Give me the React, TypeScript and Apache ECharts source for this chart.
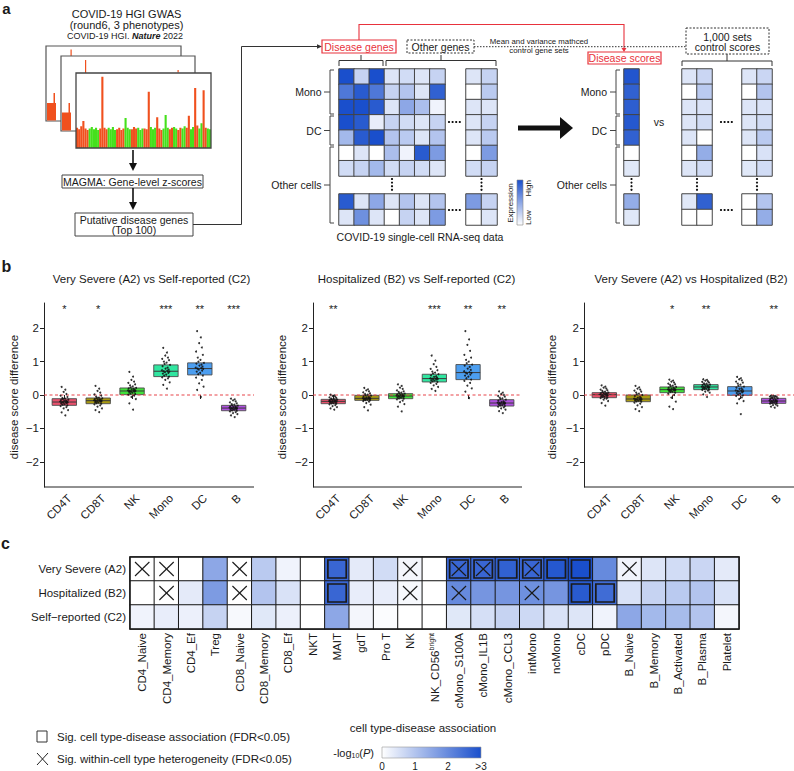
import React, { useEffect, useRef } from "react";
import * as echarts from "echarts";

const FONT = "'Liberation Sans', Arial, Helvetica, sans-serif";

// ---------------- panel a : schematic data ----------------
const GWAS_CHR_SIZES = [6, 5, 4, 4, 4, 3, 3, 3, 3, 3, 3, 3, 2, 2, 2, 2, 2, 2, 2, 2, 2, 2];
const GWAS_SIGNAL = [
  0.27, 0.25, 0.29, 0.36, 0.26, 0.24,
  0.26, 0.28, 0.25, 0.27, 0.24,
  0.26, 0.95, 0.27, 0.25,
  0.27, 0.25, 0.28, 0.24,
  0.25, 0.27, 0.24, 0.26,
  0.4, 0.27, 0.25,
  0.25, 0.28, 0.26,
  0.27, 0.24, 0.26,
  0.26, 0.25, 0.75,
  0.28, 0.25, 0.27,
  0.41, 0.26, 0.24,
  0.26, 0.44, 0.27,
  0.25, 0.27,
  0.28, 0.26,
  0.24, 0.27,
  0.26, 0.29,
  0.27, 0.43,
  0.25, 0.28,
  0.8, 0.3,
  0.26, 0.33,
  0.77, 0.27,
  0.26, 0.25,
];
const EXPR_MATRIX = [
  [3.0, 0.75, 3.0, 0.45, 0.6, 0.45, 0.75, 0.45, 0.75],
  [2.3, 2.8, 2.3, 0.75, 1.0, 0.45, 2.7, 0.0, 0.9],
  [3.0, 3.0, 2.8, 0.45, 1.5, 1.1, 0.2, 0.45, 0.45],
  [3.0, 2.8, 0.3, 0.75, 0.6, 0.45, 0.75, 0.45, 0.75],
  [1.2, 2.8, 3.0, 1.0, 0.9, 0.45, 1.0, 0.45, 0.9],
  [0.0, 0.45, 0.0, 1.1, 0.2, 2.8, 1.7, 0.0, 1.7],
  [0.6, 0.75, 1.2, 0.6, 0.75, 0.6, 0.45, 0.6, 0.75],
  [2.8, 0.45, 1.5, 0.45, 1.0, 0.45, 1.0, 1.7, 0.75],
  [0.45, 1.9, 0.45, 0.0, 0.75, 0.45, 1.7, 0.0, 0.45],
];
const DISEASE_SCORES = [2.9, 2.7, 2.75, 2.85, 2.7, 0.0, 0.4, 1.4, 0.4];
const CONTROL_SCORES = [
  [0.45, 0.7, 0.45, 0.7],
  [0.0, 0.9, 0.0, 1.0],
  [0.45, 0.5, 0.45, 0.5],
  [0.45, 0.6, 0.45, 0.6],
  [0.45, 0.0, 0.45, 0.9],
  [0.0, 1.4, 0.0, 0.5],
  [0.45, 0.6, 0.4, 0.6],
  [0.4, 2.7, 0.0, 1.0],
  [0.0, 0.0, 0.0, 1.4],
];

// ---------------- panel b : box plots ----------------
const CELL_TYPES_B = ["CD4T", "CD8T", "NK", "Mono", "DC", "B"];
const BOX_COLORS = ["#e9506c", "#a99a12", "#40e03a", "#30e6a0", "#4c9ef0", "#b050e0"];
const COMPARISONS = [
  "Very Severe (A2) vs Self-reported (C2)",
  "Hospitalized (B2) vs Self-reported (C2)",
  "Very Severe (A2) vs Hospitalized (B2)",
];
const A2C2_Q1 = [-0.31, -0.26, 0.01, 0.55, 0.6, -0.47];
const A2C2_MED = [-0.21, -0.17, 0.12, 0.71, 0.79, -0.39];
const A2C2_Q3 = [-0.11, -0.09, 0.21, 0.9, 0.96, -0.31];
const A2C2_STARS = ["*", "*", "", "***", "**", "***"];
const B2C2_Q1 = [-0.26, -0.16, -0.11, 0.39, 0.46, -0.33];
const B2C2_MED = [-0.19, -0.1, -0.03, 0.49, 0.67, -0.24];
const B2C2_Q3 = [-0.13, -0.01, 0.04, 0.62, 0.91, -0.14];
const B2C2_STARS = ["**", "", "", "***", "**", "**"];
const A2B2_Q1 = [-0.08, -0.2, 0.07, 0.16, -0.01, -0.25];
const A2B2_MED = [0.01, -0.12, 0.16, 0.24, 0.12, -0.18];
const A2B2_Q3 = [0.07, 0.0, 0.24, 0.31, 0.25, -0.1];
const A2B2_STARS = ["", "", "*", "**", "", "**"];
const JITTER = [0.03, -0.08, 0.11, -0.02, 0.06, -0.11, 0.09, -0.05, 0.01, -0.09, 0.07, -0.03, 0.1, -0.07, 0.04, -0.12, 0.08, -0.01, 0.05, -0.1, 0.12, -0.04, 0.02, -0.06, 0.09, -0.11, 0.06, -0.02, 0.03, -0.08];
const A2C2_POINTS = [
  [-0.61, -0.52, -0.45, -0.4, -0.36, -0.33, -0.31, -0.29, -0.27, -0.26, -0.24, -0.23, -0.22, -0.21, -0.21, -0.2, -0.19, -0.18, -0.17, -0.15, -0.14, -0.12, -0.11, -0.09, -0.06, -0.02, 0.03, 0.09, 0.16, 0.24],
  [-0.51, -0.45, -0.4, -0.35, -0.31, -0.28, -0.26, -0.24, -0.22, -0.21, -0.2, -0.19, -0.18, -0.17, -0.17, -0.16, -0.15, -0.14, -0.13, -0.12, -0.1, -0.09, -0.08, -0.05, -0.02, 0.02, 0.07, 0.12, 0.19, 0.27],
  [-0.44, -0.25, -0.12, -0.06, -0.02, 0.01, 0.03, 0.05, 0.07, 0.09, 0.1, 0.11, 0.12, 0.12, 0.13, 0.14, 0.15, 0.17, 0.18, 0.2, 0.21, 0.23, 0.26, 0.29, 0.32, 0.36, 0.4, 0.45, 0.55, 0.69],
  [0.19, 0.3, 0.38, 0.45, 0.5, 0.53, 0.55, 0.58, 0.61, 0.64, 0.66, 0.68, 0.7, 0.71, 0.72, 0.74, 0.76, 0.79, 0.82, 0.86, 0.9, 0.93, 0.97, 1.0, 1.04, 1.08, 1.12, 1.18, 1.27, 1.41],
  [-0.06, 0.15, 0.25, 0.35, 0.45, 0.52, 0.58, 0.62, 0.66, 0.7, 0.73, 0.76, 0.78, 0.79, 0.8, 0.82, 0.85, 0.88, 0.91, 0.94, 0.96, 1.0, 1.05, 1.12, 1.2, 1.3, 1.42, 1.55, 1.72, 1.91],
  [-0.66, -0.61, -0.57, -0.54, -0.51, -0.49, -0.47, -0.46, -0.44, -0.43, -0.42, -0.41, -0.4, -0.39, -0.39, -0.38, -0.37, -0.36, -0.35, -0.34, -0.32, -0.31, -0.29, -0.27, -0.25, -0.22, -0.19, -0.16, -0.13, -0.11],
];
const B2C2_POINTS = [
  [-0.44, -0.4, -0.36, -0.33, -0.3, -0.28, -0.26, -0.25, -0.24, -0.23, -0.22, -0.21, -0.2, -0.19, -0.19, -0.18, -0.17, -0.17, -0.16, -0.15, -0.14, -0.13, -0.12, -0.11, -0.09, -0.07, -0.05, -0.03, -0.01, 0.01],
  [-0.46, -0.36, -0.29, -0.24, -0.2, -0.18, -0.16, -0.15, -0.14, -0.13, -0.12, -0.11, -0.11, -0.1, -0.1, -0.09, -0.08, -0.07, -0.06, -0.04, -0.02, -0.01, 0.01, 0.03, 0.05, 0.08, 0.11, 0.14, 0.17, 0.21],
  [-0.49, -0.35, -0.27, -0.21, -0.17, -0.13, -0.11, -0.1, -0.08, -0.07, -0.06, -0.05, -0.04, -0.03, -0.03, -0.02, -0.01, 0.0, 0.01, 0.02, 0.04, 0.05, 0.07, 0.09, 0.11, 0.14, 0.18, 0.22, 0.27, 0.32],
  [0.12, 0.18, 0.24, 0.29, 0.33, 0.36, 0.39, 0.41, 0.43, 0.44, 0.46, 0.47, 0.48, 0.49, 0.49, 0.5, 0.52, 0.54, 0.56, 0.59, 0.62, 0.64, 0.67, 0.7, 0.74, 0.78, 0.84, 0.92, 1.03, 1.18],
  [-0.09, 0.1, 0.2, 0.28, 0.36, 0.42, 0.46, 0.5, 0.55, 0.58, 0.61, 0.64, 0.66, 0.67, 0.68, 0.71, 0.75, 0.79, 0.84, 0.88, 0.91, 0.95, 1.0, 1.05, 1.12, 1.2, 1.32, 1.5, 1.66, 1.91],
  [-0.54, -0.48, -0.44, -0.4, -0.37, -0.35, -0.33, -0.31, -0.3, -0.28, -0.27, -0.26, -0.25, -0.24, -0.24, -0.23, -0.22, -0.21, -0.19, -0.17, -0.14, -0.12, -0.1, -0.08, -0.05, -0.03, 0.0, 0.03, 0.07, 0.11],
];
const A2B2_POINTS = [
  [-0.32, -0.24, -0.18, -0.14, -0.11, -0.09, -0.08, -0.06, -0.05, -0.04, -0.03, -0.02, -0.01, 0.0, 0.01, 0.02, 0.03, 0.04, 0.05, 0.06, 0.07, 0.08, 0.1, 0.12, 0.14, 0.16, 0.19, 0.22, 0.25, 0.29],
  [-0.48, -0.42, -0.36, -0.31, -0.26, -0.23, -0.2, -0.19, -0.17, -0.16, -0.15, -0.14, -0.13, -0.12, -0.12, -0.11, -0.09, -0.08, -0.06, -0.03, 0.0, 0.02, 0.04, 0.07, 0.1, 0.13, 0.16, 0.19, 0.23, 0.27],
  [-0.42, -0.35, -0.2, -0.08, 0.0, 0.04, 0.07, 0.09, 0.1, 0.12, 0.13, 0.14, 0.15, 0.16, 0.16, 0.17, 0.18, 0.19, 0.21, 0.22, 0.24, 0.26, 0.28, 0.3, 0.32, 0.34, 0.37, 0.4, 0.43, 0.46],
  [-0.06, 0.02, 0.07, 0.1, 0.13, 0.15, 0.16, 0.18, 0.19, 0.2, 0.21, 0.22, 0.23, 0.24, 0.24, 0.25, 0.26, 0.27, 0.28, 0.3, 0.31, 0.32, 0.34, 0.35, 0.37, 0.39, 0.41, 0.43, 0.45, 0.47],
  [-0.57, -0.25, -0.18, -0.12, -0.07, -0.03, -0.01, 0.02, 0.04, 0.06, 0.08, 0.1, 0.11, 0.12, 0.12, 0.14, 0.16, 0.18, 0.2, 0.22, 0.25, 0.28, 0.31, 0.34, 0.37, 0.4, 0.44, 0.47, 0.5, 0.54],
  [-0.38, -0.35, -0.32, -0.3, -0.28, -0.26, -0.25, -0.24, -0.23, -0.22, -0.21, -0.2, -0.19, -0.18, -0.18, -0.17, -0.16, -0.15, -0.14, -0.12, -0.1, -0.09, -0.08, -0.07, -0.06, -0.05, -0.04, -0.03, -0.03, -0.02],
];
const Y_TICKS_B = [-2, -1, 0, 1, 2];

// ---------------- panel c : heatmap ----------------
const CELL_TYPES_C = [
  "CD4_Naive", "CD4_Memory", "CD4_Ef", "Treg", "CD8_Naive", "CD8_Memory", "CD8_Ef", "NKT", "MAIT", "gdT", "Pro T", "NK",
  "NK_CD56bright", "cMono_S100A", "cMono_IL1B", "cMono_CCL3", "intMono", "ncMono", "cDC", "pDC", "B_Naive", "B_Memory",
  "B_Activated", "B_Plasma", "Platelet",
];
const CONDITIONS = ["Very Severe (A2)", "Hospitalized (B2)", "Self\u2212reported (C2)"];
const LOGP_A2 = [0, 0, 0, 1.5, 0, 0.9, 0.2, 0, 2.6, 0.35, 0.6, 0.15, 0, 2.6, 2.6, 2.7, 2.6, 2.85, 3, 2.0, 0.2, 0.45, 0.6, 0.7, 0.35];
const LOGP_B2 = [0, 0, 0.35, 1.7, 0, 1.0, 0.5, 0, 2.6, 0.3, 0.3, 0.1, 0, 2.0, 1.8, 1.8, 1.9, 1.8, 2.8, 2.5, 0.5, 0.75, 0.9, 1.0, 0.5];
const LOGP_C2 = [0.2, 0.3, 0.25, 0.75, 0.1, 0.4, 0.25, 0, 1.5, 0.15, 0.05, 0, 0, 0.4, 0.55, 0.75, 0.65, 0.5, 0.45, 0.2, 1.5, 1.2, 1.15, 1.0, 0.15];
const SIG_A2 = [8, 13, 14, 15, 16, 17, 18];
const SIG_B2 = [8, 18, 19];
const HET_A2 = [0, 1, 4, 11, 13, 14, 16, 20];
const HET_B2 = [1, 4, 11, 13, 16];
const LEGEND_TICKS = ["0", "1", "2", ">3"];

const LOW = "#ffffff";
const HIGH = "#1a4fcc";

function buildOption() {
  const grid: any[] = [];
  const xAxis: any[] = [];
  const yAxis: any[] = [];
  const series: any[] = [];
  const heatIdx: number[] = [];
  const g: any[] = [];

  const addGrid = (gr: any, xa: any, ya: any) => {
    const i = grid.length;
    grid.push({ containLabel: false, outerBoundsMode: "none", ...gr });
    xAxis.push({ gridIndex: i, ...xa });
    yAxis.push({ gridIndex: i, ...ya });
    return i;
  };
  const hiddenCat = (n: number) => ({ type: "category", data: Array.from({ length: n }, (_, k) => String(k)), show: false });

  // graphic helpers
  const txt = (text: string, x: number, y: number, o: any = {}) =>
    g.push({
      type: "text", x, y, rotation: o.rot || 0, z: o.z || 50,
      style: {
        text, x: 0, y: 0, fill: o.color || "#1a1a1a", fontSize: o.size || 10.5, fontFamily: FONT,
        fontWeight: o.weight || "normal", fontStyle: o.fstyle || "normal",
        textAlign: o.align || "center", textVerticalAlign: "middle", align: o.align || "center", verticalAlign: "middle",
        rich: o.rich,
      },
    });
  const ln = (x1: number, y1: number, x2: number, y2: number, o: any = {}) =>
    g.push({ type: "line", z: o.z || 50, shape: { x1, y1, x2, y2 }, style: { stroke: o.color || "#333", lineWidth: o.w || 1, lineDash: o.dash || null } });
  const pl = (points: number[][], o: any = {}) =>
    g.push({ type: "polyline", z: o.z || 50, shape: { points }, style: { stroke: o.color || "#333", lineWidth: o.w || 1, fill: null, lineDash: o.dash || null } });
  const rc = (x: number, y: number, w: number, h: number, o: any = {}) =>
    g.push({ type: "rect", z: o.z || 50, shape: { x, y, width: w, height: h }, style: { fill: o.fill || "none", stroke: o.stroke || null, lineWidth: o.w || 1, lineDash: o.dash || null } });
  const pg = (points: number[][], fill: string, z = 50) => g.push({ type: "polygon", z, shape: { points }, style: { fill } });
  const dots = (x0: number, y0: number, dx: number, dy: number) => {
    for (let k = 0; k < 4; k++) g.push({ type: "circle", z: 50, shape: { cx: x0 + k * dx, cy: y0 + k * dy, r: 1.1 }, style: { fill: "#111" } });
  };

  // ===================== panel a =====================
  txt("a", 6.5, 8.5, { size: 15, weight: "bold" });
  txt("COVID-19 HGI GWAS", 126.5, 13.5, { size: 11 });
  txt("(round6, 3 phenotypes)", 126.5, 24.5, { size: 11 });
  txt("{n|COVID-19 HGI. }{b|Nature}{n| 2022}", 125, 36, {
    size: 9,
    rich: {
      n: { fontSize: 9, fontFamily: FONT, fill: "#1a1a1a", color: "#1a1a1a" },
      b: { fontSize: 9, fontFamily: FONT, fontWeight: "bold", fontStyle: "italic", fill: "#1a1a1a", color: "#1a1a1a" },
    },
  });
  // stacked Manhattan frames
  const RED = "#f0501e";
  rc(46, 46, 135, 75, { fill: "#fff", stroke: "#555", w: 1.2, z: 0.1 });
  rc(47, 103, 9, 17.5, { fill: RED, z: 0.2 });
  rc(53.5, 93, 1.5, 10, { fill: RED, z: 0.2 });
  rc(70.5, 49.5, 1.2, 6.5, { fill: RED, z: 0.2 });
  rc(61, 56, 134, 75, { fill: "#fff", stroke: "#555", w: 1.2, z: 0.3 });
  rc(62, 112.5, 9, 18, { fill: RED, z: 0.4 });
  rc(68.5, 103, 1.5, 10, { fill: RED, z: 0.4 });
  rc(85, 60, 1.2, 13, { fill: RED, z: 0.4 });
  rc(177.5, 70, 1.2, 2.5, { fill: RED, z: 0.4 });
  rc(76, 73, 135, 75, { fill: "#fff", z: 0.5 });
  rc(76, 73, 135, 75, { stroke: "#444", w: 1.3, z: 60 });
  const mg = addGrid({ left: 76, top: 73, width: 135, height: 75 }, hiddenCat(GWAS_SIGNAL.length), { type: "value", min: 0, max: 1, show: false });
  const chrColor: string[] = [];
  GWAS_CHR_SIZES.forEach((n, c) => {
    for (let k = 0; k < n; k++) chrColor.push(c % 2 === 0 ? RED : "#45e01c");
  });
  series.push({
    type: "bar", xAxisIndex: mg, yAxisIndex: mg, barCategoryGap: "0%", silent: true,
    data: GWAS_SIGNAL.map((v, k) => ({ value: v, itemStyle: { color: chrColor[k] } })),
  });
  // arrows and boxes
  ln(133, 150, 133, 164, { w: 1.6, color: "#111" });
  pg([[129, 163], [137, 163], [133, 171]], "#111");
  rc(62, 175, 141, 13, { fill: "#fff", stroke: "#444", w: 1 });
  txt("MAGMA: Gene-level z-scores", 132.5, 181.5, { size: 10.5 });
  ln(133, 188, 133, 203, { w: 1.6, color: "#111" });
  pg([[129, 202], [137, 202], [133, 210]], "#111");
  rc(75, 213, 118, 23, { fill: "#fff", stroke: "#444", w: 1 });
  txt("Putative disease genes", 134, 219.5, { size: 10.5 });
  txt("(Top 100)", 134, 230, { size: 10.5 });
  pl([[193, 224.5], [241.5, 224.5], [241.5, 46.5], [318, 46.5]], { color: "#333", w: 1 });
  pg([[317, 44.3], [317, 48.7], [322, 46.5]], "#333");

  // middle section labels
  const REDL = "#e8323c";
  rc(322, 40, 74, 13, { fill: "#fff", stroke: REDL, w: 1.2 });
  txt("Disease genes", 359, 46.5, { size: 10.5, color: REDL });
  pl([[359, 40], [359, 24.5], [624, 24.5], [624, 49]], { color: REDL, w: 1.1 });
  pg([[621.5, 48], [626.5, 48], [624, 52]], REDL);
  rc(407, 40, 67, 13, { stroke: "#333", w: 1, dash: [2, 1.5] });
  txt("Other genes", 440.5, 46.5, { size: 10.5 });
  ln(474, 46.7, 686, 46.7, { color: "#333", w: 1, dash: [1.5, 1.5] });
  txt("Mean and variance mathced", 539, 41.3, { size: 7.8 });
  txt("control gene sets", 539, 50.5, { size: 7.8 });
  pl([[339, 66], [339, 60.5], [383, 60.5], [383, 66]], { w: 1 });
  ln(361, 60.5, 361, 55);
  pl([[386, 66], [386, 60.5], [496, 60.5], [496, 66]], { w: 1 });
  ln(441, 60.5, 441, 55);
  const rowBrackets = (bx: number, labelX: number) => {
    const groups = [
      { name: "Mono", y0: 70, y1: 114 },
      { name: "DC", y0: 116, y1: 145 },
      { name: "Other cells", y0: 147, y1: 223 },
    ];
    groups.forEach((gr) => {
      pl([[bx + 4, gr.y0], [bx, gr.y0], [bx, gr.y1], [bx + 4, gr.y1]], { w: 1, color: "#444" });
      const my = (gr.y0 + gr.y1) / 2;
      ln(bx - 6, my, bx, my, { color: "#444" });
      txt(gr.name, labelX, my, { size: 10.5, align: "right" });
    });
  };
  rowBrackets(330, 321.5);
  // schematic heat blocks
  const block = (left: number, top: number, width: number, height: number, rows: number[], cols: number[], get: (r: number, c: number) => number) => {
    const gi = addGrid({ left, top, width, height }, hiddenCat(cols.length), { ...hiddenCat(rows.length), inverse: true });
    const data: number[][] = [];
    rows.forEach((r, ri) => cols.forEach((c, ci) => data.push([ci, ri, get(r, c)])));
    series.push({ type: "heatmap", xAxisIndex: gi, yAxisIndex: gi, data, silent: true, emphasis: { disabled: true }, itemStyle: { borderColor: "#444", borderWidth: 1 } });
    heatIdx.push(series.length - 1);
  };
  const R_TOP = [0, 1, 2, 3, 4, 5, 6];
  const R_BOT = [7, 8];
  block(339, 69, 106, 107, R_TOP, [0, 1, 2, 3, 4, 5, 6], (r, c) => EXPR_MATRIX[r][c]);
  block(466, 69, 31, 107, R_TOP, [7, 8], (r, c) => EXPR_MATRIX[r][c]);
  block(339, 194, 106, 31, R_BOT, [0, 1, 2, 3, 4, 5, 6], (r, c) => EXPR_MATRIX[r][c]);
  block(466, 194, 31, 31, R_BOT, [7, 8], (r, c) => EXPR_MATRIX[r][c]);
  block(624, 69, 15, 107, R_TOP, [0], (r) => DISEASE_SCORES[r]);
  block(624, 194, 15, 31, R_BOT, [0], (r) => DISEASE_SCORES[r]);
  block(682, 69, 30, 107, R_TOP, [0, 1], (r, c) => CONTROL_SCORES[r][c]);
  block(742, 69, 30, 107, R_TOP, [2, 3], (r, c) => CONTROL_SCORES[r][c]);
  block(682, 194, 30, 31, R_BOT, [0, 1], (r, c) => CONTROL_SCORES[r][c]);
  block(742, 194, 30, 31, R_BOT, [2, 3], (r, c) => CONTROL_SCORES[r][c]);
  dots(449, 122, 3.6, 0);
  dots(449, 210, 3.6, 0);
  dots(392, 179, 0, 3.6);
  dots(481.5, 179, 0, 3.6);
  // expression color bar
  g.push({
    type: "rect", z: 50, shape: { x: 517, y: 180, width: 6, height: 45 },
    style: { fill: new echarts.graphic.LinearGradient(0, 0, 0, 1, [{ offset: 0, color: HIGH }, { offset: 1, color: LOW }]), stroke: "#888", lineWidth: 0.6 },
  });
  txt("Expression", 510, 203, { size: 8, rot: Math.PI / 2 });
  txt("High", 528.5, 180, { size: 8, rot: Math.PI / 2, align: "right" });
  txt("Low", 528.5, 225, { size: 8, rot: Math.PI / 2, align: "left" });
  txt("COVID-19 single-cell RNA-seq data", 420, 237, { size: 10.5 });
  // big arrow
  rc(518, 125.5, 43, 5, { fill: "#111" });
  pg([[560, 117], [573, 128], [560, 139]], "#111");
  // disease scores
  rc(588, 52, 73, 12, { fill: "#fff", stroke: REDL, w: 1.2 });
  txt("Disease scores", 624.5, 58, { size: 10.5, color: REDL });
  rowBrackets(616, 607);
  dots(631.5, 179, 0, 3.6);
  txt("vs", 659, 122, { size: 10.5 });
  // control scores
  rc(686, 28, 83, 26, { fill: "#fff", stroke: "#333", w: 1, dash: [2, 1.5] });
  txt("1,000 sets", 727.5, 36.5, { size: 10.5 });
  txt("control scores", 727.5, 47, { size: 10.5 });
  pl([[682, 66], [682, 61], [772, 61], [772, 66]], { w: 1 });
  ln(727, 61, 727, 54);
  dots(721, 122, 3.6, 0);
  dots(721, 210, 3.6, 0);
  dots(697, 179, 0, 3.6);
  dots(757, 179, 0, 3.6);

  // ===================== panel b =====================
  txt("b", 6.5, 266.5, { size: 16, weight: "bold" });
  const PANELS = [
    { left: 44, width: 210, q1: A2C2_Q1, med: A2C2_MED, q3: A2C2_Q3, stars: A2C2_STARS, pts: A2C2_POINTS, tx: 151.5, lx: 14 },
    { left: 313, width: 209, q1: B2C2_Q1, med: B2C2_MED, q3: B2C2_Q3, stars: B2C2_STARS, pts: B2C2_POINTS, tx: 416.5, lx: 282 },
    { left: 584, width: 210, q1: A2B2_Q1, med: A2B2_MED, q3: A2B2_Q3, stars: A2B2_STARS, pts: A2B2_POINTS, tx: 691, lx: 552 },
  ];
  const BOXW = 0.72;
  const EXPAND = 0.6; // ggplot discrete axis expansion (in category units)
  const Y_MIN = -2.75;
  PANELS.forEach((p, pi) => {
    const unit = p.width / (CELL_TYPES_B.length - 1 + 2 * EXPAND);
    const inner = (EXPAND - 0.5) * unit;
    txt(COMPARISONS[pi], p.tx, 278.5, { size: 11.5 });
    txt("disease score difference", p.lx, 397, { size: 11.5, rot: Math.PI / 2 });
    // x-axis baseline spanning the full expanded range
    ln(p.left, 487, p.left + p.width, 487, { color: "#222", w: 1, z: 40 });
    const gi = addGrid(
      { left: p.left + inner, top: 303, width: p.width - 2 * inner, height: 184 },
      {
        type: "category", data: CELL_TYPES_B, boundaryGap: true,
        axisLine: { show: false },
        axisTick: { show: true, length: 4, alignWithLabel: true, lineStyle: { color: "#222" } },
        axisLabel: { show: false },
        splitLine: { show: false },
      },
      {
        type: "value", min: Y_MIN, max: 2.75, offset: inner,
        axisLine: { show: true, onZero: false, lineStyle: { color: "#222", width: 1 } },
        axisTick: { show: true, length: 4, customValues: Y_TICKS_B, lineStyle: { color: "#222" } },
        axisLabel: {
          customValues: Y_TICKS_B, margin: 5, fontSize: 11.5, color: "#1a1a1a", fontFamily: FONT,
          formatter: (v: number) => (v < 0 ? "\u2212" + Math.abs(v) : String(v)),
        },
        splitLine: { show: false },
      }
    );
    series.push({
      type: "custom", xAxisIndex: gi, yAxisIndex: gi, silent: true, z: 2,
      encode: { x: 0, y: [1, 2, 3] },
      data: CELL_TYPES_B.map((_, i) => [i, p.q1[i], p.med[i], p.q3[i]]),
      renderItem: (params: any, api: any) => {
        const i = api.value(0);
        const bw = api.size([1, 0])[0] * BOXW;
        const top = api.coord([i, api.value(3)]);
        const bot = api.coord([i, api.value(1)]);
        const m = api.coord([i, api.value(2)]);
        const x0 = top[0] - bw / 2;
        return {
          type: "group",
          children: [
            { type: "rect", shape: { x: x0, y: top[1], width: bw, height: bot[1] - top[1] }, style: { fill: BOX_COLORS[i], stroke: "#4d4d4d", lineWidth: 0.9 } },
            { type: "line", shape: { x1: x0, y1: m[1], x2: x0 + bw, y2: m[1] }, style: { stroke: "#3a3a3a", lineWidth: 1 } },
          ],
        };
      },
    });
    // dashed zero reference line across the expanded x-range
    series.push({
      type: "custom", xAxisIndex: gi, yAxisIndex: gi, silent: true, z: 3,
      data: [[0, 0]],
      renderItem: (params: any, api: any) => {
        const a = api.coord([0, 0]);
        const b = api.coord([CELL_TYPES_B.length - 1, 0]);
        const bw = api.size([1, 0])[0];
        return { type: "line", shape: { x1: a[0] - EXPAND * bw, y1: a[1], x2: b[0] + EXPAND * bw, y2: b[1] }, style: { stroke: "#e8454a", lineWidth: 1.2, lineDash: [3, 2.5] } };
      },
    });
    const pts: any[] = [];
    p.pts.forEach((vals, i) => vals.forEach((v, k) => pts.push({ value: [i, v], symbolOffset: [JITTER[k % JITTER.length] * unit, 0] })));
    series.push({
      type: "scatter", xAxisIndex: gi, yAxisIndex: gi, silent: true, z: 4,
      symbolSize: 2, itemStyle: { color: "#111", opacity: 0.85 }, data: pts,
    });
    series.push({
      type: "custom", xAxisIndex: gi, yAxisIndex: gi, silent: true, z: 5,
      data: p.stars.map((_, i) => [i, 2.58]),
      renderItem: (params: any, api: any) => {
        const c = api.coord([api.value(0), api.value(1)]);
        return { type: "text", x: c[0], y: c[1], style: { text: p.stars[params.dataIndex], fontSize: 11, fontFamily: FONT, fill: "#1a1a1a", align: "center", verticalAlign: "middle" } };
      },
    });
    // category tick labels, rotated 45 degrees and hanging from each tick
    series.push({
      type: "custom", xAxisIndex: gi, yAxisIndex: gi, silent: true, z: 5,
      data: CELL_TYPES_B.map((_, i) => [i, Y_MIN]),
      renderItem: (params: any, api: any) => {
        const c = api.coord([api.value(0), api.value(1)]);
        return {
          type: "text", x: c[0] + 1, y: c[1] + 5, rotation: Math.PI / 4,
          style: { text: CELL_TYPES_B[params.dataIndex], fontSize: 11.5, fontFamily: FONT, fill: "#1a1a1a", align: "right", verticalAlign: "top" },
        };
      },
    });
  });

  // ===================== panel c =====================
  txt("c", 5.5, 543.5, { size: 16, weight: "bold" });
  const rowsBottomUp = [...CONDITIONS].reverse();
  const hc = addGrid(
    { left: 130, top: 557, width: 609, height: 72 },
    {
      type: "category", data: CELL_TYPES_C,
      axisLine: { show: false }, axisTick: { show: false }, splitLine: { show: false },
      axisLabel: {
        rotate: 90, interval: 0, margin: 4, fontSize: 11.5, color: "#1a1a1a", fontFamily: FONT,
        formatter: (v: string) => (v === "NK_CD56bright" ? "{n|NK_CD56}{s|bright}" : v),
        rich: {
          n: { fontSize: 11.5, fontFamily: FONT, color: "#1a1a1a", lineHeight: 14 },
          s: { fontSize: 7, fontFamily: FONT, color: "#1a1a1a", verticalAlign: "top", lineHeight: 14 },
        },
      },
    },
    {
      type: "category", data: rowsBottomUp,
      axisLine: { show: false }, axisTick: { show: false }, splitLine: { show: false },
      axisLabel: { margin: 4, fontSize: 11.5, color: "#1a1a1a", fontFamily: FONT },
    }
  );
  const heatData: number[][] = [];
  [LOGP_A2, LOGP_B2, LOGP_C2].forEach((arr, r) => arr.forEach((v, c) => heatData.push([c, 2 - r, v])));
  series.push({
    type: "heatmap", xAxisIndex: hc, yAxisIndex: hc, data: heatData, silent: true, emphasis: { disabled: true },
    itemStyle: { borderColor: "#1a1a1a", borderWidth: 1 },
  });
  heatIdx.push(series.length - 1);
  const marks: number[][] = [];
  SIG_A2.forEach((c) => marks.push([c, 2, 1]));
  SIG_B2.forEach((c) => marks.push([c, 1, 1]));
  HET_A2.forEach((c) => marks.push([c, 2, 2]));
  HET_B2.forEach((c) => marks.push([c, 1, 2]));
  series.push({
    type: "custom", xAxisIndex: hc, yAxisIndex: hc, silent: true, z: 5, data: marks,
    encode: { x: 0, y: 1 },
    renderItem: (params: any, api: any) => {
      const c = api.coord([api.value(0), api.value(1)]);
      const s = api.size([1, 1]);
      const w = s[0];
      const h = s[1];
      if (api.value(2) === 1) {
        return { type: "rect", shape: { x: c[0] - w / 2 + 3, y: c[1] - h / 2 + 3, width: w - 6, height: h - 6 }, style: { fill: "none", stroke: "#1a1a1a", lineWidth: 1.7 } };
      }
      const d = 5;
      return {
        type: "group",
        children: [
          { type: "line", shape: { x1: c[0] - w / 2 + d, y1: c[1] - h / 2 + d, x2: c[0] + w / 2 - d, y2: c[1] + h / 2 - d }, style: { stroke: "#1a1a1a", lineWidth: 1.1 } },
          { type: "line", shape: { x1: c[0] + w / 2 - d, y1: c[1] - h / 2 + d, x2: c[0] - w / 2 + d, y2: c[1] + h / 2 - d }, style: { stroke: "#1a1a1a", lineWidth: 1.1 } },
        ],
      };
    },
  });
  // outer frame of the heatmap
  rc(130, 557, 609, 72, { stroke: "#1a1a1a", w: 1.5, z: 60 });

  // legends
  rc(37, 731, 10, 11, { stroke: "#333", w: 1 });
  txt("Sig. cell type-disease association (FDR<0.05)", 57, 736.5, { size: 11.5, align: "left" });
  ln(37, 753, 48, 765, { color: "#222", w: 1 });
  ln(48, 753, 37, 765, { color: "#222", w: 1 });
  txt("Sig. within-cell type heterogeneity (FDR<0.05)", 57, 759, { size: 11.5, align: "left" });
  txt("cell type-disease association", 423, 728, { size: 11.5 });
  txt("{a|-log}{sub|10}{a|(}{i|P}{a|)}", 374, 753, {
    size: 11,
    align: "right",
    rich: {
      a: { fontSize: 11, fontFamily: FONT, fill: "#1a1a1a", color: "#1a1a1a" },
      sub: { fontSize: 7, fontFamily: FONT, fill: "#1a1a1a", color: "#1a1a1a", verticalAlign: "bottom" },
      i: { fontSize: 11, fontFamily: FONT, fontStyle: "italic", fill: "#1a1a1a", color: "#1a1a1a" },
    },
  });
  g.push({
    type: "rect", z: 50, shape: { x: 382, y: 747, width: 99, height: 11 },
    style: { fill: new echarts.graphic.LinearGradient(0, 0, 1, 0, [{ offset: 0, color: LOW }, { offset: 1, color: HIGH }]), stroke: "#999", lineWidth: 0.6 },
  });
  LEGEND_TICKS.forEach((t, k) => txt(t, 382 + k * 33, 766.5, { size: 10 }));

  return {
    animation: false,
    backgroundColor: "#ffffff",
    textStyle: { fontFamily: FONT },
    grid,
    xAxis,
    yAxis,
    visualMap: {
      show: false, type: "continuous", min: 0, max: 3, dimension: 2, seriesIndex: heatIdx,
      inRange: { color: [LOW, HIGH] },
    },
    graphic: { elements: g },
    series,
  };
}

export default function App() {
  const ref = useRef<HTMLDivElement>(null);
  useEffect(() => {
    const chart = echarts.init(ref.current as HTMLDivElement, null, { renderer: "svg" });
    chart.setOption(buildOption() as any);
    return () => chart.dispose();
  }, []);
  return <div ref={ref} style={{ position: "absolute", left: 0, top: 0, width: 794, height: 771, background: "#fff" }} />;
}
